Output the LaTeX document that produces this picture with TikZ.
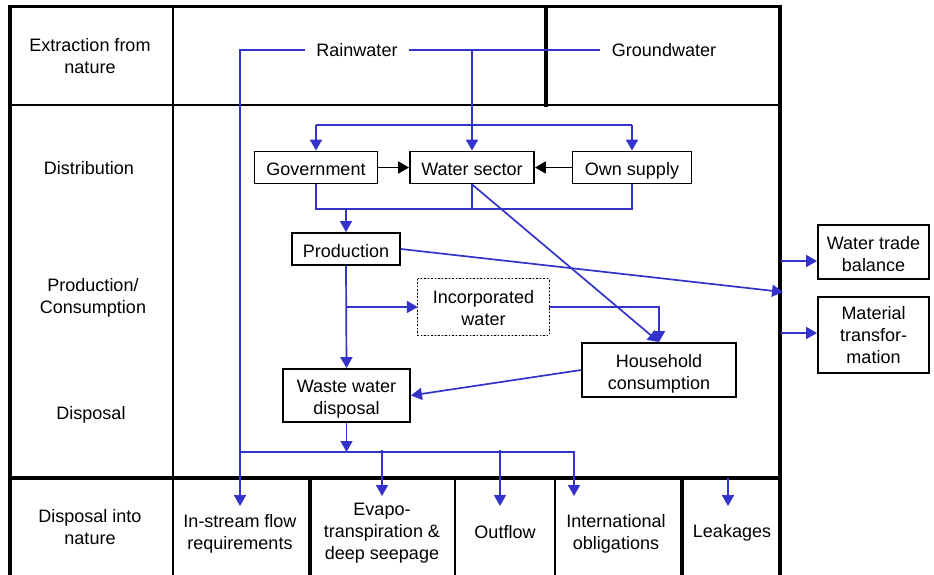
\documentclass[tikz,border=0pt]{standalone}
\usepackage{fontspec}
\setmainfont{Liberation Sans}
\usetikzlibrary{arrows.meta}
\definecolor{flowblue}{RGB}{51,51,204}
\newcommand\diagfont{\fontsize{18pt}{22pt}\selectfont}
\begin{document}
\begin{tikzpicture}[x=1pt,y=-1pt,font=\diagfont,
  lbl/.style={align=center,inner sep=0pt},
  frm/.style={draw,line width=1.8pt,inner sep=0pt},
  box/.style={frm,minimum height=32pt,align=center,
    execute at begin node={\rule{0pt}{20pt}},
    execute at end node={\rule[-3.8pt]{0pt}{3.8pt}}},
  flow/.style={flowblue,line width=1.7pt},
  flowarr/.style={flow,-{Triangle[length=11pt,width=12pt]}},
  blackarr/.style={black,line width=1.7pt,-{Triangle[length=11pt,width=12pt]}},
  frame/.style={black,line cap=rect}]
\useasboundingbox (0,0) rectangle (934,575);

% table frame
\draw[frame,line width=3pt] (10,7) -- (780,7);
\draw[frame,line width=3.2pt] (10,7) -- (10,580);
\draw[frame,line width=4pt] (780,7) -- (780,580);
\draw[frame,line width=2pt] (10,105) -- (780,105);
\draw[frame,line width=4pt] (10,478) -- (780,478);
\draw[frame,line width=2.2pt] (173,7) -- (173,580);
\draw[frame,line width=4pt] (546,7) -- (546,105);
\draw[frame,line width=3.3pt] (310,478) -- (310,580);
\draw[frame,line width=2pt] (455,478) -- (455,580);
\draw[frame,line width=2pt] (555,478) -- (555,580);
\draw[frame,line width=3.3pt] (682,478) -- (682,580);

% row headings
\node[lbl] (extr) at (90,56.5) {Extraction from\\nature};
\node[lbl] (distr) at (89,168.5) {Distribution};
\node[lbl] (prodc) at (93,298) {Production/\\Consumption};
\node[lbl] (disp) at (91,415) {Disposal};
\node[lbl] (dispn) at (90,527) {Disposal into\\nature};

% sources
\node[lbl,inner xsep=11pt] (rain) at (357,50.5) {Rainwater};
\node[lbl,inner xsep=12pt] (ground) at (664,50.5) {Groundwater};

% single-line boxes
\node[box,minimum width=123pt] (gov) at (316,167.5) {Government};
\node[box,minimum width=124pt] (ws) at (472,167.5) {Water sector};
\node[box,minimum width=119pt] (own) at (632,167.5) {Own supply};
\node[box,minimum width=108pt] (prod) at (346,249) {Production};

% multi-line boxes: frame and text set apart
\node[minimum width=131pt,minimum height=56pt,inner sep=0pt] (incorp) at (483.5,307) {};
\node[lbl] (incorpText) at ([yshift=-1pt]incorp.center) {Incorporated\\water};
\node[frm,minimum width=154pt,minimum height=54pt] (house) at (659,370) {};
\node[lbl] (houseText) at ([yshift=-4pt]house.center) {Household\\consumption};
\node[frm,minimum width=127pt,minimum height=53pt] (waste) at (346.5,395.5) {};
\node[lbl] (wasteText) at ([yshift=-4pt]waste.center) {Waste water\\disposal};
\node[frm,minimum width=111pt,minimum height=54pt] (trade) at (873.5,252) {};
\node[lbl] (tradeText) at ([yshift=-2pt]trade.center) {Water trade\\balance};
\node[frm,minimum width=111pt,minimum height=76pt] (mat) at (873.5,335) {};
\node[lbl] (matText) at ([yshift=-0.5pt]mat.center) {Material\\transfor-\\mation};

% dotted outline of the incorporated water box
\draw[gray!55,line width=1.2pt,dash pattern=on 7pt off 3pt] (incorp.north west) rectangle (incorp.south east);
\draw[black,line width=1.3pt,dash pattern=on 1.5pt off 2pt] (incorp.north west) rectangle (incorp.south east);

% sinks
\node[lbl] (instream) at (240,534) {In-stream flow\\requirements};
\node[lbl] (evapo) at (382,533.5) {Evapo-\\transpiration \&\\deep seepage};
\node[lbl] (outflow) at (505,532.5) {Outflow};
\node[lbl] (intl) at (616,534) {International\\obligations};
\node[lbl] (leak) at (732,532.5) {Leakages};

% rainwater and groundwater supply
\coordinate (rainCorner) at (240,50);
\coordinate (instreamTip) at (240,506);
\draw[flowarr] (rain.west |- rainCorner) -- (rainCorner) -- (instreamTip);
\draw[flow,line width=2.8pt] (rainCorner) -- (263,50);
\draw[flow] (rain.east |- rainCorner) -- (ground.west |- rainCorner);
\coordinate (rainDrop) at (472,50);
\draw[flowarr] (rainDrop) -- (ws.north);

% distribution bar
\coordinate (distBar) at (0,125);
\draw[flow] (gov.north |- distBar) -- (own.north |- distBar);
\draw[flowarr] (gov.north |- distBar) -- (gov.north);
\draw[flowarr] (own.north |- distBar) -- (own.north);
\draw[blackarr] (gov) -- (ws);
\draw[blackarr] (own) -- (ws);

% collection towards production
\coordinate (collect) at (0,209);
\draw[flow] (gov.south) -- (gov.south |- collect) -- (own.south |- collect) -- (own.south);
\draw[flow] (ws.south) -- (ws.south |- collect);
\draw[flowarr] (prod.north |- collect) -- (prod.north);

% production and consumption
\draw[flowarr] (ws.south) -- (house.north);
\draw[flowarr] (prod.south) -- (waste.north);
\draw[flowarr] (prod.south |- incorp.west) -- (incorp.west);
\draw[flowarr] (incorp.east) -| (house.north);
\draw[flowarr] (house.west) -- (waste.east);
\coordinate (borderHit) at (783,292);
\draw[flowarr] (prod.east) -- (borderHit);
\coordinate (tradeSrc) at (781,261);
\draw[flowarr] (tradeSrc) -- (tradeSrc -| trade.west);
\coordinate (matSrc) at (781,333);
\draw[flowarr] (matSrc) -- (matSrc -| mat.west);

% disposal into nature
\coordinate (dispBar) at (0,452);
\draw[flowarr] (waste.south) -- (waste.south |- dispBar);
\coordinate (intlCorner) at (574,452);
\coordinate (intlTip) at (574,496);
\draw[flowarr] (rainCorner |- dispBar) -- (intlCorner) -- (intlTip);
\coordinate (evSrc) at (382,450);
\coordinate (evTip) at (382,496);
\draw[flowarr] (evSrc) -- (evTip);
\coordinate (outSrc) at (500,450);
\coordinate (outTip) at (500,506);
\draw[flowarr] (outSrc) -- (outTip);
\coordinate (leakSrc) at (728,478);
\coordinate (leakTip) at (728,506);
\draw[flowarr] (leakSrc) -- (leakTip);
\end{tikzpicture}
\end{document}
